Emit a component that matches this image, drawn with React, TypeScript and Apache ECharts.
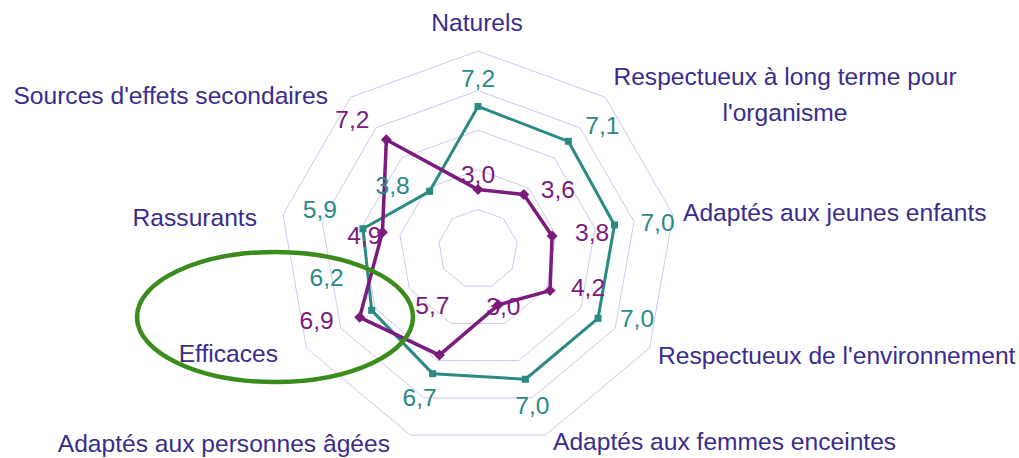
import React, { useEffect, useRef } from 'react';
import * as echarts from 'echarts';

// ---------- data ----------
const categories: string[] = [
  'Naturels',
  "Respectueux à long terme pour\nl'organisme",
  'Adaptés aux jeunes enfants',
  "Respectueux de l'environnement",
  'Adaptés aux femmes enceintes',
  'Adaptés aux personnes âgées',
  'Efficaces',
  'Rassurants',
  "Sources d'effets secondaires",
];
const tealValues: number[] = [7.2, 7.1, 7.0, 7.0, 7.0, 6.7, 6.2, 5.9, 3.8];
const purpleValues: number[] = [3.0, 3.6, 3.8, 4.2, 3.0, 5.7, 6.9, 4.9, 7.2];
const axisMin = 0;
const axisMax = 10;
const axisStep = 2;

// ---------- styles ----------
const TEAL = '#2b8a84';
const PURPLE = '#7c1a7e';
const NAME_COLOR = '#3a2c8c';
const GRID_COLOR = '#cacaf0';
const ELLIPSE_COLOR = '#3b8c1c';
const FONT = '"Liberation Sans", Arial, Helvetica, sans-serif';
const FONT_SIZE = 24.6;

// label offsets (px) relative to each vertex, in reference (clockwise) order
const tealLabelOffsets: number[][] = [
  [0, -28], [34, -16], [43, -2], [39, 0], [7, 26], [-13, 24], [-45, -33], [-43, -19], [-37, -6],
];
const purpleLabelOffsets: number[][] = [
  [0, -15], [34, -5], [40, -3], [38, -3], [5, 2], [-7, -50], [-43, 3], [-18, 3], [-34, -20],
];

// indicator name placement (text anchors)
const namePlacement: { x: number; y: number; align: string }[] = [
  { x: 477, y: 22, align: 'center' },
  { x: 785, y: 94, align: 'center' },
  { x: 683, y: 212, align: 'left' },
  { x: 658, y: 355, align: 'left' },
  { x: 553, y: 441, align: 'left' },
  { x: 390, y: 443, align: 'right' },
  { x: 278, y: 353, align: 'right' },
  { x: 257, y: 217, align: 'right' },
  { x: 328, y: 95, align: 'right' },
];

const fmt = (v: number) => v.toFixed(1).replace('.', ',');

// ECharts radar runs counter-clockwise; reorder so the picture runs clockwise
const n = categories.length;
const ecOrder = categories.map((_, i) => (n - i) % n);
const toEc = <T,>(arr: T[]): T[] => ecOrder.map((k) => arr[k]);

export default function App() {
  const ref = useRef<HTMLDivElement>(null);

  useEffect(() => {
    if (!ref.current) return;
    const chart = echarts.init(ref.current, undefined, { renderer: 'svg' });

    const labelSeries = (values: number[], offsets: number[][], color: string, name: string) =>
      values.map((v, k) => {
        const only = categories.map((_, j) => (j === k ? v : null));
        return {
          type: 'radar',
          name: name + ' label ' + k,
          silent: true,
          z: 5,
          symbol: 'circle',
          symbolSize: 1,
          itemStyle: { color: 'rgba(0,0,0,0)' },
          lineStyle: { width: 0, opacity: 0 },
          data: [
            {
              value: toEc(only),
              label: {
                show: true,
                position: 'inside',
                offset: offsets[k],
                color,
                fontSize: FONT_SIZE,
                fontFamily: FONT,
                formatter: (p: any) =>
                  typeof p.value === 'number' && !isNaN(p.value) ? fmt(p.value) : '',
              },
            },
          ],
        };
      });

    chart.setOption({
      animation: false,
      backgroundColor: '#ffffff',
      radar: {
        center: [478, 249],
        radius: 198,
        startAngle: 90,
        shape: 'polygon',
        splitNumber: (axisMax - axisMin) / axisStep,
        indicator: toEc(categories).map((c) => ({ name: c, min: axisMin, max: axisMax })),
        axisName: { show: false },
        axisLine: { show: false },
        axisTick: { show: false },
        axisLabel: { show: false },
        splitArea: { show: false },
        splitLine: { lineStyle: { color: GRID_COLOR, width: 1 } },
      },
      graphic: [
        ...categories.map((c, i) => ({
          type: 'text',
          x: namePlacement[i].x,
          y: namePlacement[i].y,
          silent: true,
          style: {
            text: c,
            fill: NAME_COLOR,
            fontSize: FONT_SIZE,
            fontFamily: FONT,
            align: namePlacement[i].align,
            verticalAlign: 'middle',
            lineHeight: 36,
          },
        })),
        {
          type: 'ellipse',
          z: 100,
          silent: true,
          shape: { cx: 275, cy: 317, rx: 138, ry: 65 },
          style: { fill: 'none', stroke: ELLIPSE_COLOR, lineWidth: 4.5 },
        },
      ],
      series: [
        {
          type: 'radar',
          name: 'Série 1',
          z: 2,
          symbol: 'rect',
          symbolSize: 7,
          itemStyle: { color: TEAL },
          lineStyle: { color: TEAL, width: 3 },
          data: [{ value: toEc(tealValues) }],
        },
        {
          type: 'radar',
          name: 'Série 2',
          z: 3,
          symbol: 'diamond',
          symbolSize: 11,
          itemStyle: { color: PURPLE },
          lineStyle: { color: PURPLE, width: 3.5 },
          data: [{ value: toEc(purpleValues) }],
        },
        ...labelSeries(tealValues, tealLabelOffsets, TEAL, 'Série 1'),
        ...labelSeries(purpleValues, purpleLabelOffsets, PURPLE, 'Série 2'),
      ],
    });

    return () => chart.dispose();
  }, []);

  return (
    <div
      ref={ref}
      style={{ position: 'absolute', left: 0, top: 0, width: 1019, height: 458, background: '#fff' }}
    />
  );
}
